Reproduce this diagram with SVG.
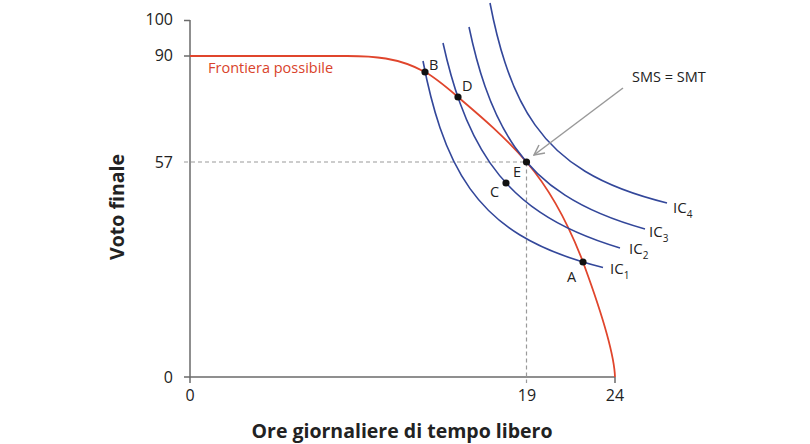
<svg xmlns="http://www.w3.org/2000/svg" width="810" height="444" viewBox="0 0 810 444">
<defs>
<style>
.axis{stroke:#6b6b6b;stroke-width:1.5;fill:none}
.dash{stroke:#9a9a9a;stroke-width:1.2;stroke-dasharray:4 3;fill:none}
.ic{stroke:#33479a;stroke-width:1.6;fill:none}
.front{stroke:#e0452c;stroke-width:1.8;fill:none}
.tick{font-family:"Open Sans","Noto Sans",sans-serif;font-size:16px;fill:#222}
.lbl{font-family:"Open Sans","Noto Sans",sans-serif;font-size:14.5px;fill:#222}
.icl{font-family:"Open Sans","Noto Sans",sans-serif;font-size:15px;fill:#222}
.sub{font-size:10px}
.title{font-family:"Open Sans","Noto Sans",sans-serif;font-size:19.5px;font-weight:bold;fill:#222}
.dot{fill:#111}
</style>
<marker id="arr" viewBox="0 0 12 12" refX="11" refY="6" markerWidth="12" markerHeight="12" markerUnits="userSpaceOnUse" orient="auto">
<path d="M1,1 L11,6 L1,11" fill="none" stroke="#999" stroke-width="1.5"/>
</marker>
</defs>

<g id="axes">
<path class="axis" d="M190,20 V377 H615"/>
<path class="axis" d="M184,20.5 H190 M184,56 H190 M184,377 H190 M190,377 V383 M615,377 V383"/>
<text class="tick" x="173" y="25" text-anchor="end">100</text>
<text class="tick" x="173" y="61" text-anchor="end">90</text>
<text class="tick" x="173" y="168" text-anchor="end">57</text>
<text class="tick" x="173" y="383" text-anchor="end">0</text>
<text class="tick" x="190" y="401" text-anchor="middle">0</text>
<text class="tick" x="527" y="401" text-anchor="middle">19</text>
<text class="tick" x="615" y="401" text-anchor="middle">24</text>
<text class="title" x="402" y="438" text-anchor="middle">Ore giornaliere di tempo libero</text>
<text class="title" transform="translate(124,207) rotate(-90)" text-anchor="middle">Voto finale</text>
</g>

<g id="guides">
<path class="dash" d="M184,162 H526.5 V383"/>
</g>

<g id="frontier">
<path class="front" d="M190,56 H347 C373,56 398.3,57.3 425,72 C436,78 447,87.6 458,97 C480.8,116.4 503.7,135.6 526.5,162 C545.3,183.8 564.2,213 583,262 C591,284 614,345 615,377"/>
<text x="208" y="73" font-family="Open Sans, Noto Sans, sans-serif" font-size="14.5" fill="#d9432b">Frontiera possibile</text>
</g>

<g id="IC1">
<path class="ic" d="M423,61 C428.67,90.77 434.33,111.07 440,127.7 C450,157.05 460,174.56 470,188.6 C486.67,212 503.33,224.79 520,235 C547.67,251.95 575.33,260.57 603,267.5"/>
<text class="icl" x="610" y="274">IC<tspan class="sub" dy="5">1</tspan></text>
</g>
<g id="IC2">
<path class="ic" d="M443,43 C448.67,68.58 454.33,87.45 460,103.1 C470,130.72 480,148.48 490,162.9 C506.67,186.93 523.33,200.97 540,212.2 C566.67,230.17 593.33,240.07 620,248"/>
<text class="icl" x="629" y="254">IC<tspan class="sub" dy="5">2</tspan></text>
</g>
<g id="IC3">
<path class="ic" d="M469,27 C474.33,52.42 479.67,70.95 485,86.3 C495,115.09 505,132.88 515,147.2 C531.67,171.07 548.33,184.46 565,195.2 C591.67,212.38 618.33,221.63 645,229"/>
<text class="icl" x="649" y="237">IC<tspan class="sub" dy="5">3</tspan></text>
</g>
<g id="IC4">
<path class="ic" d="M490,3 C495,28.89 500,47.36 505,62.6 C515,93.07 525,110.72 535,124.9 C551.67,148.53 568.33,161.2 585,171.3 C612.33,187.86 639.67,196.26 667,203"/>
<text class="icl" x="673" y="213">IC<tspan class="sub" dy="5">4</tspan></text>
</g>

<g id="connectors">
<path d="M623,88 L534,155" stroke="#999" stroke-width="1.5" fill="none" marker-end="url(#arr)"/>
</g>
<g id="note">
<text class="lbl" x="632" y="82">SMS = SMT</text>
</g>

<g id="pointB"><circle class="dot" cx="425" cy="72" r="3.6"/><text class="lbl" x="429" y="70">B</text></g>
<g id="pointD"><circle class="dot" cx="458" cy="97" r="3.6"/><text class="lbl" x="462" y="91">D</text></g>
<g id="pointE"><circle class="dot" cx="526.5" cy="162" r="3.6"/><text class="lbl" x="513" y="177">E</text></g>
<g id="pointC"><circle class="dot" cx="506" cy="183" r="3.6"/><text class="lbl" x="490" y="197">C</text></g>
<g id="pointA"><circle class="dot" cx="583" cy="262" r="3.6"/><text class="lbl" x="567" y="282">A</text></g>
</svg>
